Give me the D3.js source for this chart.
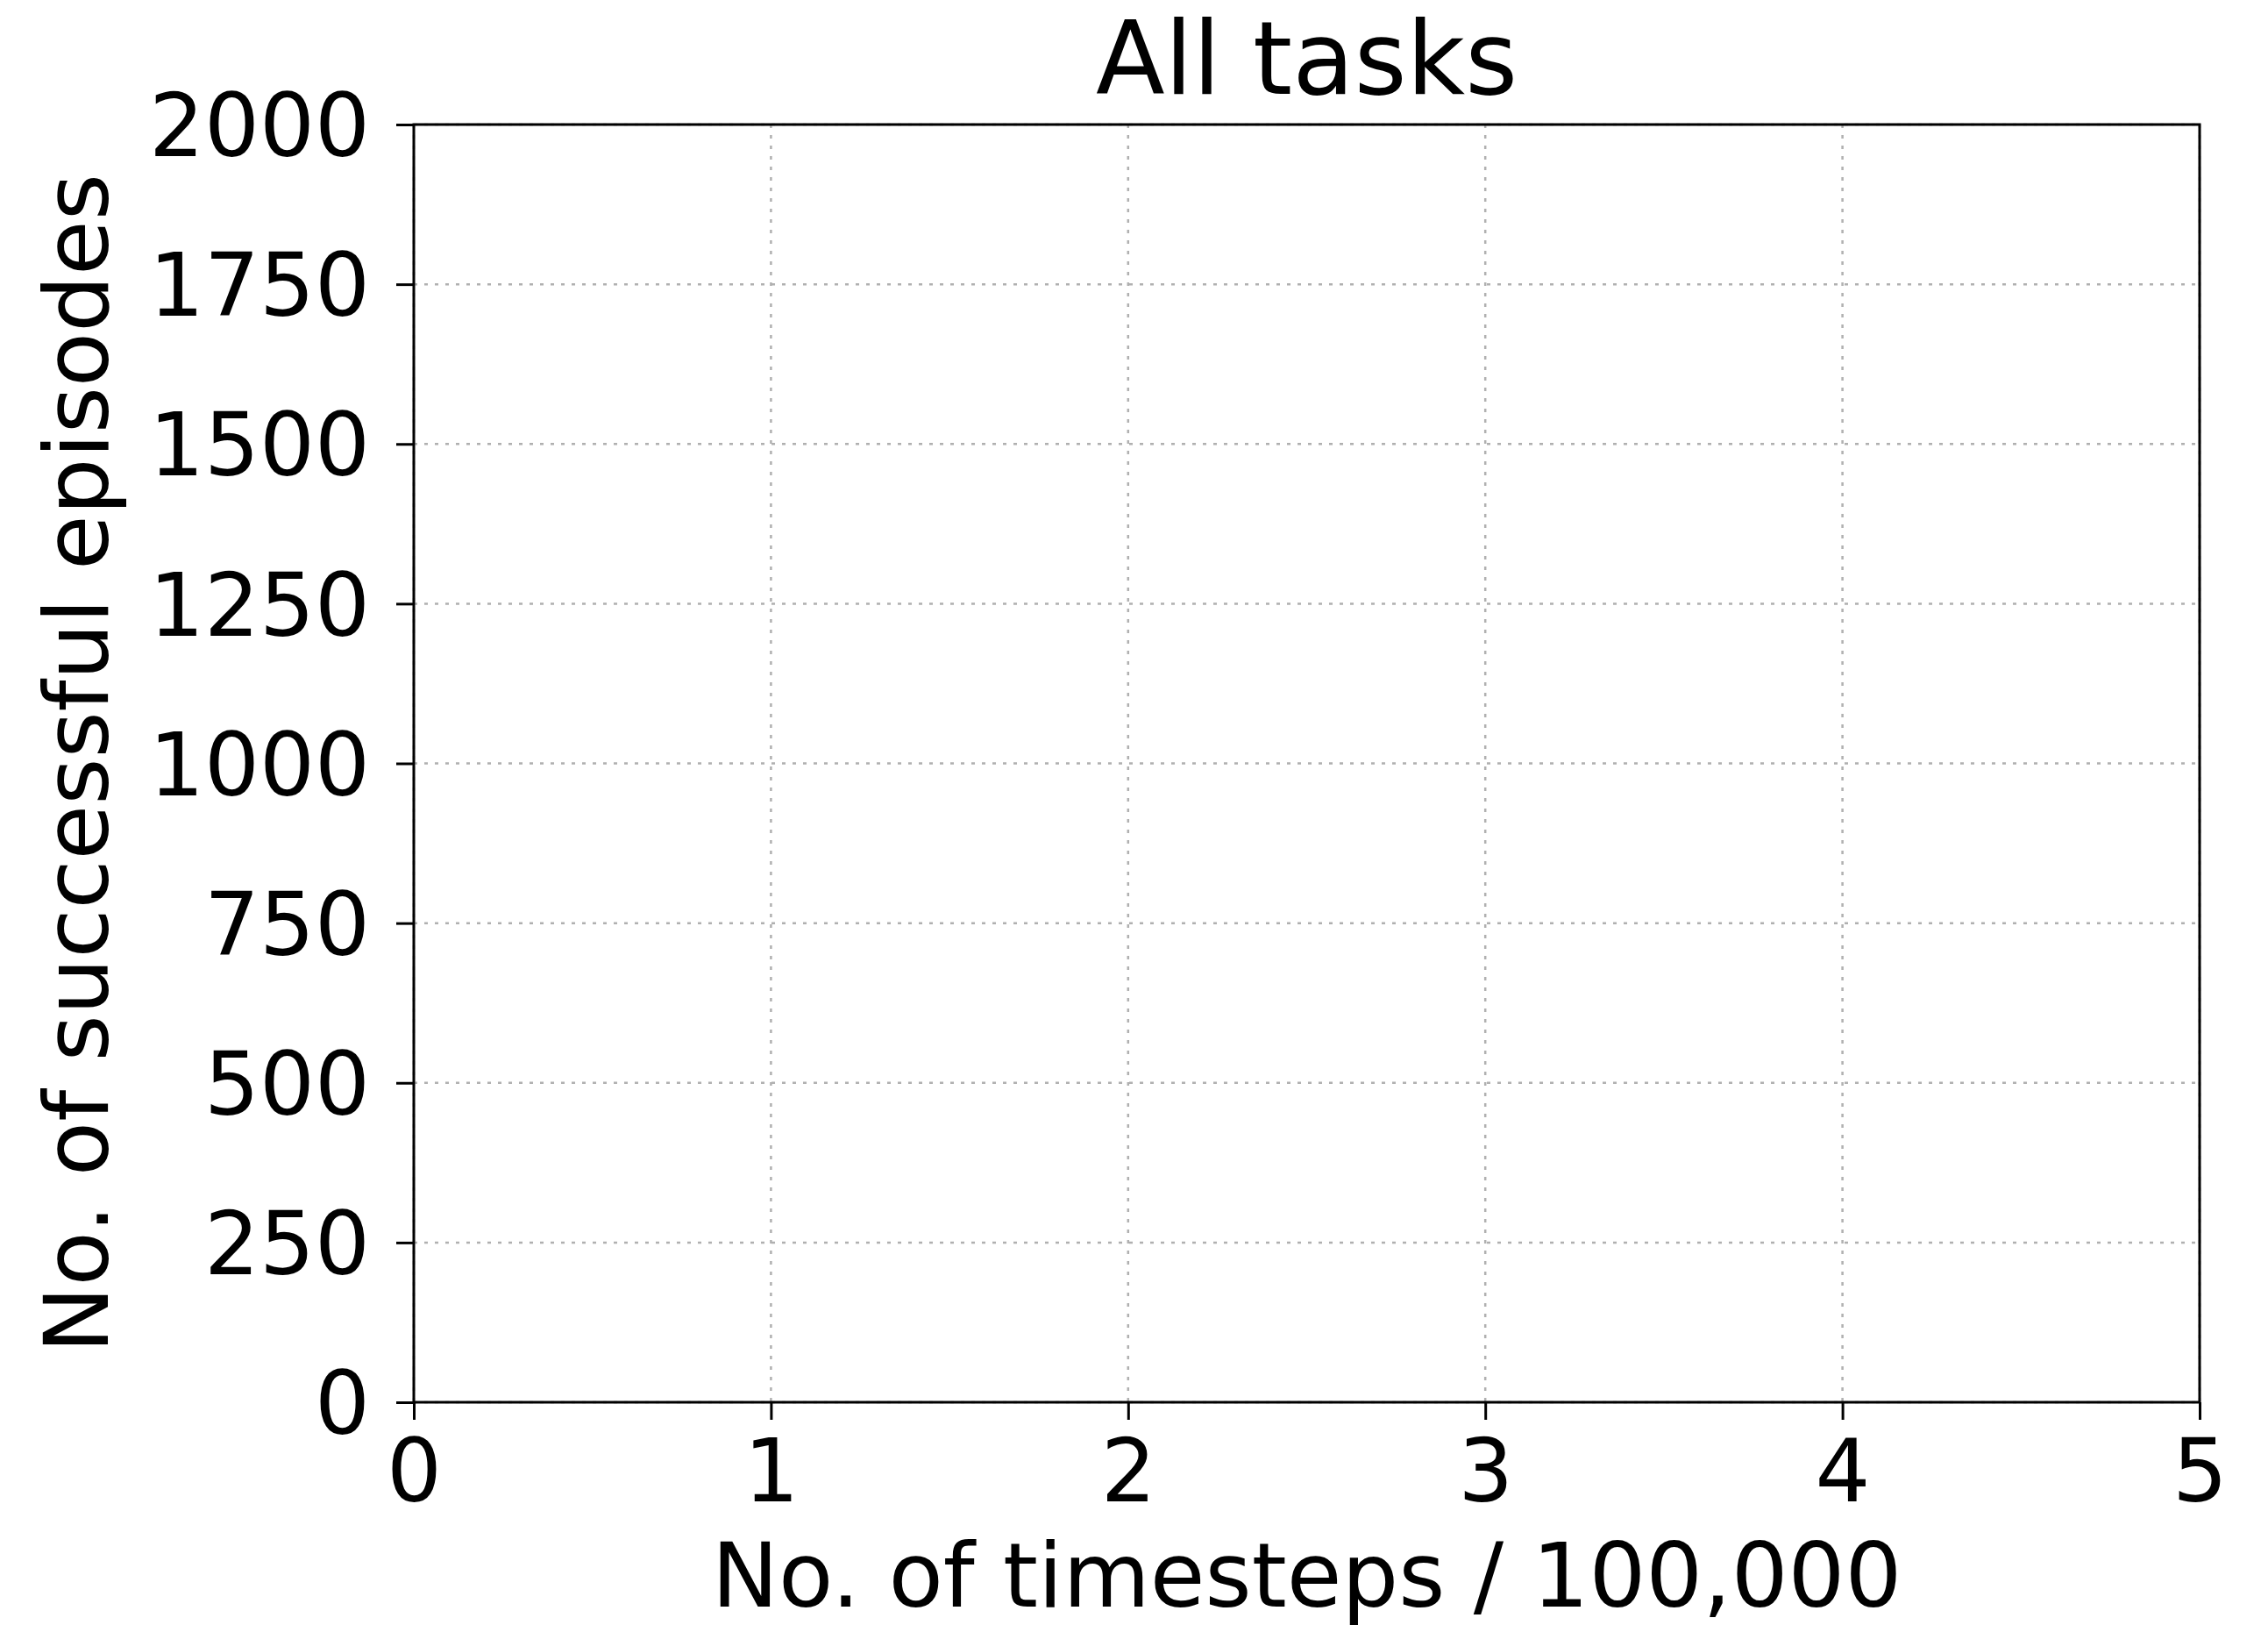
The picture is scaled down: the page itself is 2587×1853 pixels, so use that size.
<!DOCTYPE html>
<html>
<head>
<meta charset="utf-8">
<script src="https://cdn.jsdelivr.net/npm/d3@7"></script>
<style>
  body { margin: 0; background: #fff; }
  text { font-family: "DejaVu Sans", sans-serif; fill: #000; }
</style>
</head>
<body>
<div id="chart"></div>
<script>
// chart values
const title = "All tasks";
const x_label = "No. of timesteps / 100,000";
const y_label = "No. of successful episodes";
const x_ticks = [0, 1, 2, 3, 4, 5];
const y_ticks = [0, 250, 500, 750, 1000, 1250, 1500, 1750, 2000];
const x_domain = [0, 5];
const y_domain = [0, 2000];
// no series was plotted in the source figure
const series = [];

const W = 2587, H = 1853;
const margin = { top: 142, right: 78, bottom: 254, left: 472 };
const width = W - margin.left - margin.right;
const height = H - margin.top - margin.bottom;

let svg = d3.select("#chart")
    .append("svg")
    .attr("width", W)
    .attr("height", H)
    .append("g")
    .attr("transform", `translate(${margin.left},${margin.top})`);

let x = d3.scaleLinear().domain(x_domain).range([0, width]);
let y = d3.scaleLinear().domain(y_domain).range([height, 0]);

// dotted grid
svg.append("g")
    .selectAll("line.vgrid")
    .data(x_ticks)
    .enter()
    .append("line")
    .attr("x1", d => x(d)).attr("x2", d => x(d))
    .attr("y1", 0).attr("y2", height)
    .attr("stroke", "#b0b0b0")
    .attr("stroke-width", 2.5)
    .attr("stroke-dasharray", "4,8");

svg.append("g")
    .selectAll("line.hgrid")
    .data(y_ticks)
    .enter()
    .append("line")
    .attr("x1", 0).attr("x2", width)
    .attr("y1", d => y(d)).attr("y2", d => y(d))
    .attr("stroke", "#b0b0b0")
    .attr("stroke-width", 2.5)
    .attr("stroke-dasharray", "4,8");

// lines (none in the reference)
let line = d3.line().x(d => x(d[0])).y(d => y(d[1]));
svg.selectAll("path.series").data(series).enter()
    .append("path").attr("class", "series")
    .attr("fill", "none").attr("stroke", "#1f77b4").attr("stroke-width", 3)
    .attr("d", d => line(d.values));

// axes
let xAxis = svg.append("g")
    .attr("transform", `translate(0,${height})`)
    .call(d3.axisBottom(x).tickValues(x_ticks).tickSize(20).tickFormat(d3.format("d")));
let yAxis = svg.append("g")
    .call(d3.axisLeft(y).tickValues(y_ticks).tickSize(20).tickPadding(30).tickFormat(d3.format("d")));

[xAxis, yAxis].forEach(a => {
    a.select(".domain").remove();
    a.selectAll(".tick line").attr("stroke", "#000").attr("stroke-width", 3);
    a.selectAll(".tick text").style("font-size", "99px").style("font-family", "DejaVu Sans").attr("fill", "#000");
});
xAxis.selectAll(".tick text").attr("y", 113).attr("dy", 0);
yAxis.selectAll(".tick text").attr("dy", "0.36em");

// frame
svg.append("rect")
    .attr("x", 0).attr("y", 0)
    .attr("width", width).attr("height", height)
    .attr("fill", "none")
    .attr("stroke", "#000")
    .attr("stroke-width", 3);

// title and labels
svg.append("text")
    .attr("x", width / 2).attr("y", -35)
    .style("text-anchor", "middle")
    .style("font-size", "115px")
    .text(title);

svg.append("text")
    .attr("x", width / 2).attr("y", height + 233)
    .style("text-anchor", "middle")
    .style("font-size", "102px")
    .text(x_label);

svg.append("text")
    .attr("transform", `translate(${123 - margin.left},${height / 2}) rotate(-90)`)
    .style("text-anchor", "middle")
    .style("font-size", "102px")
    .text(y_label);
</script>
</body>
</html>
